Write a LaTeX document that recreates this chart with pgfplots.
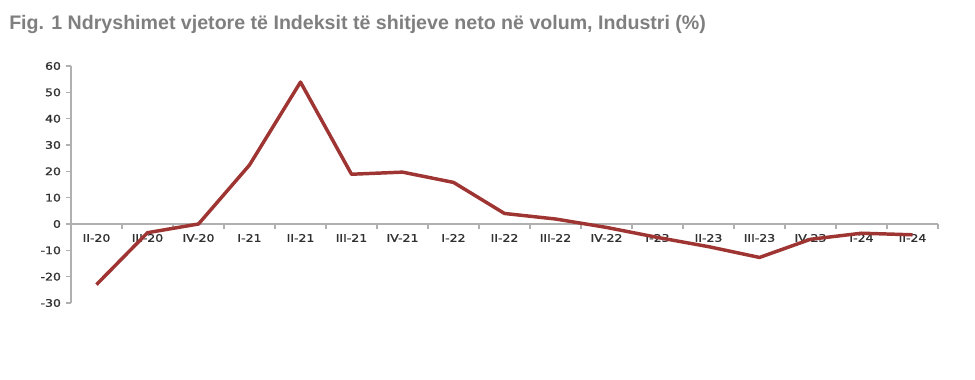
\documentclass[border=0pt]{standalone}
\usepackage{fontspec}
\setmainfont{Liberation Sans}
\newfontfamily\tickfont[FakeStretch=1.2,FakeBold=1.3]{DejaVu Sans}
\usepackage{pgfplots}
\pgfplotsset{compat=1.18}
\definecolor{linered}{HTML}{9E3533}
\definecolor{titlegray}{HTML}{7F7F7F}
\definecolor{axisgray}{HTML}{B0B0B0}
\definecolor{ticktext}{HTML}{303030}
\begin{document}
\begin{tikzpicture}[x=0.75pt,y=0.75pt]
\path[use as bounding box] (0,0) rectangle (975,379);
\node[anchor=base west, inner sep=0pt, text=titlegray, font=\bfseries\fontsize{14.7}{16}\selectfont] at (9,379-30) {Fig. 1 Ndryshimet vjetore të Indeksit të shitjeve neto në volum, Industri (\%)};
\begin{axis}[
  at={(71*0.75pt,76*0.75pt)}, anchor=south west,
  scale only axis,
  width=650.25pt, height=177.75pt,
  xmin=-0.5, xmax=16.5,
  ymin=-30, ymax=60,
  axis x line=middle,
  axis y line=left,
  hide obscured x ticks=false,
  hide obscured y ticks=false,
  axis line style={axisgray, line width=0.8pt, -},
  xtick={-0.5,0.5,...,16.5},
  xticklabels={II-20,III-20,IV-20,I-21,II-21,III-21,IV-21,I-22,II-22,III-22,IV-22,I-23,II-23,III-23,IV-23,I-24,II-24},
  x tick label as interval,
  ytick={-30,-20,...,60},
  tick align=outside,
  major tick length=4pt,
  tick style={axisgray, line width=0.8pt},
  tick label style={font=\tickfont\fontsize{7.8}{9}\selectfont, text=ticktext},
  /pgf/number format/assume math mode=true,
  clip=false,
]
\addplot[linered, line width=2.6pt, line join=round] coordinates {
(0,-23) (1,-3.3) (2,0) (3,22.4) (4,53.9) (5,18.9) (6,19.7) (7,15.8) (8,4.0) (9,1.9) (10,-1.3) (11,-5.1) (12,-8.6) (13,-12.7) (14,-5.8) (15,-3.5) (16,-4.1)
};
\end{axis}
\end{tikzpicture}
\end{document}
